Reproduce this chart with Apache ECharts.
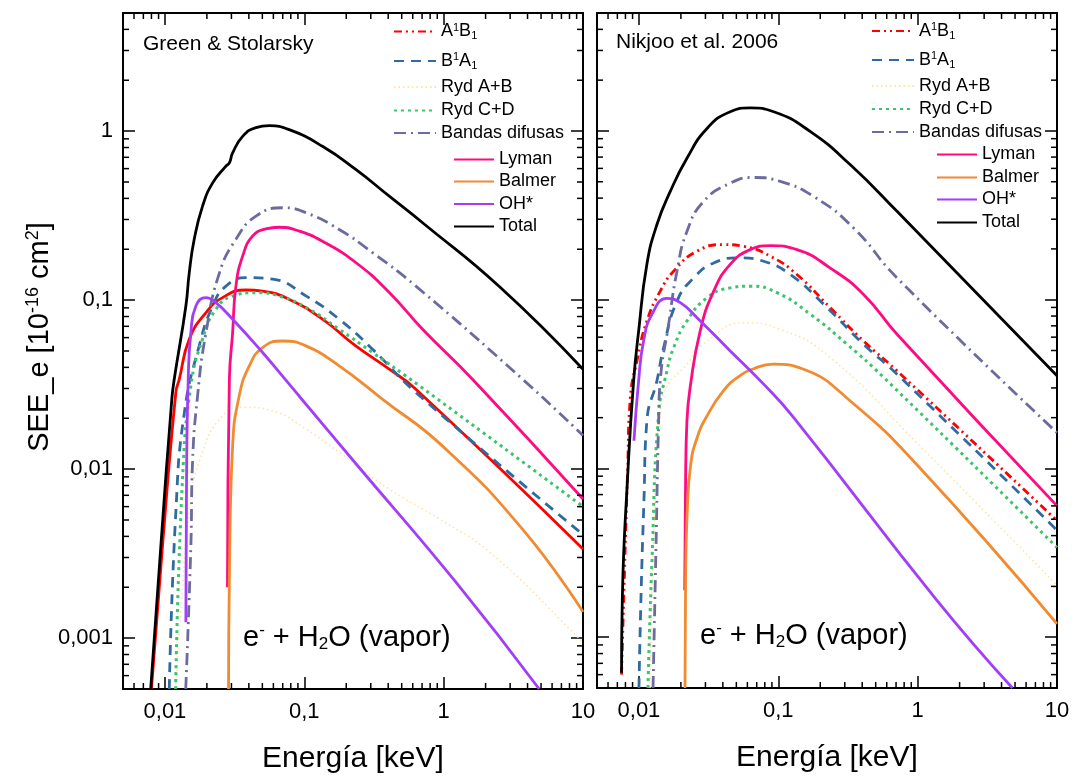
<!DOCTYPE html>
<html style="height: 100%">
<head>
<meta charset="utf-8">
<script src="https://cdn.jsdelivr.net/npm/echarts@6/dist/echarts.min.js"></script>
</head>
<body style="height: 100%; margin: 0; width: 100%; background: #fff;">
<div id="container" style="width: 1075px; height: 779px;"></div>
<script type="text/javascript">
// [energia keV, SEE_e 1e-16 cm2]  -- Green & Stolarsky (panel izquierdo)
var gsA1B1 = [[0.0080,0.0005],[0.0096,0.0035],[0.01197,0.0284],[0.01267,0.034],[0.01494,0.0587],[0.0197,0.0844],[0.0259,0.1035],[0.0381,0.1148],[0.0502,0.113],[0.078,0.101],[0.135,0.0771],[0.234,0.0536],[0.407,0.039],[0.632,0.0297],[10,0.00337]];
var gsB1A1 = [[0.01074,0.0005],[0.01197,0.00556],[0.01378,0.0216],[0.0176,0.0536],[0.022,0.0923],[0.0274,0.121],[0.0381,0.136],[0.0592,0.133],[0.1026,0.106],[0.178,0.0771],[0.309,0.0512],[0.632,0.0284],[10,0.0041]];
var gsRydAB = [[0.0119,0.0005],[0.013,0.00143],[0.0149,0.00556],[0.0176,0.011],[0.0259,0.0207],[0.0381,0.0232],[0.0592,0.0221],[0.1026,0.01725],[0.178,0.01257],[0.407,0.00762],[0.931,0.00507],[2.13,0.00323],[8.9,0.00104],[10,0.00093]];
var gsRydCD = [[0.01193,0.0005],[0.01337,0.00874],[0.01535,0.0311],[0.0186,0.0587],[0.0232,0.0882],[0.0306,0.1057],[0.045,0.1107],[0.066,0.1057],[0.1087,0.0882],[0.178,0.0672],[0.309,0.049],[0.67,0.0311],[10,0.0060]];
var gsBandas = [[0.0141,0.0005],[0.01535,0.00353],[0.01578,0.011],[0.01714,0.0271],[0.0197,0.0643],[0.0246,0.145],[0.0323,0.229],[0.045,0.314],[0.0698,0.352],[0.1026,0.329],[0.178,0.262],[0.309,0.191],[0.632,0.121],[3.69,0.034],[10,0.0158]];
var gsLyman = [[0.0281,0.002],[0.029,0.034],[0.0306,0.0643],[0.0323,0.121],[0.0361,0.182],[0.0425,0.239],[0.053,0.264],[0.0661,0.27],[0.092,0.256],[0.135,0.223],[0.234,0.167],[0.407,0.111],[0.706,0.0672],[1.61,0.034],[10,0.00666]];
var gsBalmer = [[0.0286,0.0005],[0.029,0.00224],[0.0306,0.01375],[0.0341,0.0271],[0.0403,0.0408],[0.0502,0.0524],[0.0698,0.0573],[0.1026,0.0536],[0.178,0.0408],[0.365,0.0259],[1,0.0135],[3.69,0.0044],[10,0.00143]];
var gsOH = [[0.01413,0.00124],[0.01429,0.00874],[0.01469,0.034],[0.01535,0.0643],[0.01667,0.0923],[0.0197,0.1035],[0.0232,0.0966],[0.0306,0.0771],[0.0502,0.049],[0.0698,0.0355],[0.092,0.027],[0.234,0.0108],[1.22,0.00215],[4.85,0.0005]];
var gsTotal = [[0.0079,0.0005],[0.00935,0.00353],[0.0112,0.0259],[0.01166,0.034],[0.01413,0.0923],[0.01494,0.145],[0.01622,0.229],[0.01862,0.36],[0.022,0.494],[0.0274,0.62],[0.029,0.649],[0.0306,0.743],[0.0361,0.931],[0.045,1.05],[0.0561,1.077],[0.078,1.02],[0.135,0.813],[0.234,0.593],[0.407,0.412],[0.706,0.287],[2.52,0.12],[10,0.039]];

// Nikjoo et al. 2006 (panel derecho)
var nkA1B1 = [[0.0075,0.0006],[0.0083,0.01],[0.00867,0.0263],[0.00968,0.0434],[0.0114,0.0748],[0.01422,0.1124],[0.01774,0.1475],[0.0261,0.194],[0.0406,0.212],[0.0565,0.207],[0.0877,0.181],[0.136,0.141],[0.236,0.0896],[0.409,0.0569],[0.711,0.0379],[10,0.0049]];
var nkB1A1 = [[0.0100,0.0005],[0.01033,0.00166],[0.01086,0.00646],[0.0114,0.0192],[0.01346,0.0331],[0.01503,0.052],[0.01875,0.0981],[0.0247,0.1347],[0.0344,0.165],[0.0533,0.177],[0.0785,0.169],[0.122,0.141],[0.212,0.0938],[0.409,0.0544],[0.711,0.0362],[10,0.0043]];
var nkRydAB = [[0.012,0.0005],[0.01303,0.00646],[0.01416,0.0192],[0.01503,0.0276],[0.0221,0.0415],[0.0308,0.0569],[0.0565,0.073],[0.1033,0.0668],[0.236,0.0454],[1,0.0140],[10,0.00203]];
var nkRydCD = [[0.0116,0.0005],[0.0124,0.00286],[0.01384,0.021],[0.01589,0.0379],[0.01774,0.052],[0.0221,0.0748],[0.0308,0.1026],[0.0452,0.1175],[0.0629,0.1202],[0.098,0.11],[0.170,0.0819],[0.312,0.0544],[0.571,0.0346],[10,0.0034]];
var nkBandas = [[0.01262,0.0005],[0.01324,0.00327],[0.01384,0.0192],[0.01422,0.0331],[0.01633,0.0715],[0.01875,0.1475],[0.0221,0.254],[0.0291,0.382],[0.0452,0.49],[0.0665,0.53],[0.1033,0.502],[0.1795,0.409],[0.347,0.266],[0.711,0.1347],[10,0.0163]];
var nkLyman = [[0.0213,0.0019],[0.0216,0.008],[0.0221,0.0192],[0.0233,0.0302],[0.0275,0.0652],[0.0344,0.1124],[0.0452,0.162],[0.0629,0.198],[0.0877,0.209],[0.136,0.198],[0.236,0.154],[0.409,0.1074],[0.711,0.0624],[10,0.0060]];
var nkBalmer = [[0.0214,0.0005],[0.0216,0.002],[0.0222,0.0055],[0.0235,0.0105],[0.026,0.015],[0.0308,0.0205],[0.0406,0.029],[0.052,0.035],[0.0665,0.039],[0.0923,0.0415],[0.152,0.0387],[0.327,0.0252],[1,0.0104],[10,0.0012]];
var nkOH = [[0.00921,0.0146],[0.00995,0.0331],[0.0108,0.0569],[0.0124,0.0819],[0.01589,0.1018],[0.0198,0.096],[0.0261,0.0782],[0.0452,0.0497],[0.0785,0.0316],[0.129,0.02],[1.37,0.00166],[4.79,0.0005]];
var nkTotal = [[0.0075,0.000615],[0.0076,0.0017],[0.00834,0.0097],[0.00916,0.0331],[0.00995,0.0652],[0.0114,0.162],[0.01346,0.279],[0.01678,0.438],[0.0221,0.689],[0.0308,1.035],[0.0452,1.30],[0.0629,1.37],[0.0927,1.30],[0.170,0.991],[0.329,0.63],[0.711,0.334],[10,0.0354]];

var seriesKeys = ['A1B1', 'B1A1', 'RydAB', 'RydCD', 'Bandas', 'Lyman', 'Balmer', 'OH', 'Total'];
var legendText = {
    A1B1: '{t|A}{sp|1}{t|B}{sb|1}',
    B1A1: '{t|B}{sp|1}{t|A}{sb|1}',
    RydAB: '{t|Ryd A+B}',
    RydCD: '{t|Ryd C+D}',
    Bandas: '{t|Bandas difusas}',
    Lyman: '{t|Lyman}',
    Balmer: '{t|Balmer}',
    OH: '{t|OH*}',
    Total: '{t|Total}'
};
var xMin = 0.005, xMax = 10, yMin = 0.0005, yMax = 5;
var xMinorTicks = [0.006,0.007,0.008,0.009,0.02,0.03,0.04,0.05,0.06,0.07,0.08,0.09,0.2,0.3,0.4,0.5,0.6,0.7,0.8,0.9,2,3,4,5,6,7,8,9];
var yMinorTicks = [0.0006,0.0007,0.0008,0.0009,0.002,0.003,0.004,0.005,0.006,0.007,0.008,0.009,0.02,0.03,0.04,0.05,0.06,0.07,0.08,0.09,0.2,0.3,0.4,0.5,0.6,0.7,0.8,0.9,2,3,4];

var styles = {
    A1B1:   {color: '#FF0000', width: 2.8, type: [8, 4, 2, 4, 2, 4]},
    B1A1:   {color: '#2F6B9F', width: 2.8, type: [10, 7]},
    RydAB:  {color: '#FFE3A3', width: 1.6, type: [1.5, 3]},
    RydCD:  {color: '#3CC46A', width: 3, type: [3, 4]},
    Bandas: {color: '#6B6B9F', width: 2.8, type: [12, 5, 2, 5]},
    Lyman:  {color: '#FF0A82', width: 2.8, type: 'solid'},
    Balmer: {color: '#F28A30', width: 2.8, type: 'solid'},
    OH:     {color: '#A23EF8', width: 2.8, type: 'solid'},
    Total:  {color: '#000000', width: 2.8, type: 'solid'}
};
var panelData = {
    L: {A1B1: gsA1B1, B1A1: gsB1A1, RydAB: gsRydAB, RydCD: gsRydCD, Bandas: gsBandas, Lyman: gsLyman, Balmer: gsBalmer, OH: gsOH, Total: gsTotal},
    R: {A1B1: nkA1B1, B1A1: nkB1A1, RydAB: nkRydAB, RydCD: nkRydCD, Bandas: nkBandas, Lyman: nkLyman, Balmer: nkBalmer, OH: nkOH, Total: nkTotal}
};

var fam = 'Liberation Sans, Arial, sans-serif';

function decLabel(v) {
    var e = Math.log10(v);
    if (Math.abs(e - Math.round(e)) > 1e-6) return '';
    return String(Number(v.toPrecision(6))).replace('.', ',');
}

var dom = document.getElementById('container');
var myChart = echarts.init(dom);

function xAx(grid, pos, labels, name) {
    return {
        type: 'log', gridIndex: grid, position: pos, min: xMin, max: xMax, logBase: 10,
        axisLine: {show: true, lineStyle: {color: '#000', width: 2}},
        axisTick: {show: true, inside: true, length: 12, lineStyle: {color: '#000', width: 1.5}},
        axisLabel: {show: labels, formatter: decLabel, color: '#000', fontSize: 22, fontFamily: fam, margin: 12},
        splitLine: {show: false},
        name: name, nameLocation: 'middle', nameGap: 55,
        nameTextStyle: {color: '#000', fontSize: 30, fontFamily: fam}
    };
}
function yAx(grid, pos, labels, name) {
    return {
        type: 'log', gridIndex: grid, position: pos, min: yMin, max: yMax, logBase: 10,
        axisLine: {show: true, lineStyle: {color: '#000', width: 2}},
        axisTick: {show: true, inside: true, length: 12, lineStyle: {color: '#000', width: 1.5}},
        axisLabel: {show: labels, formatter: decLabel, color: '#000', fontSize: 22, fontFamily: fam, margin: 10},
        splitLine: {show: false},
        name: name, nameLocation: 'middle', nameGap: 60, nameRotate: 90,
        nameTextStyle: {
            color: '#000', fontFamily: fam, padding: [0, 0, 0, 28],
            rich: {
                t: {fontSize: 29, fontFamily: fam, color: '#000'},
                sp: {fontSize: 18, fontFamily: fam, color: '#000', padding: [0, 0, 14, 0]}
            }
        }
    };
}

var series = [];
['L', 'R'].forEach(function (p, pi) {
    seriesKeys.forEach(function (k, ki) {
        var st = styles[k];
        var type = st.type;
        if (p === 'L' && k === 'A1B1') type = 'solid';
        series.push({
            type: 'line', name: p + '|' + k,
            xAxisIndex: pi * 2, yAxisIndex: pi * 2,
            data: panelData[p][k],
            symbol: 'none', showSymbol: false,
            smooth: 0.5,
            lineStyle: {color: st.color, width: st.width, type: type},
            itemStyle: {color: st.color},
            z: 2 + ki, animation: false, silent: true
        });
    });
    var ticks = [];
    xMinorTicks.forEach(function (v) { ticks.push([v, 0.1, 0]); });
    yMinorTicks.forEach(function (v) { ticks.push([0.1, v, 1]); });
    series.push({
        type: 'custom', name: p + '|ticks', xAxisIndex: pi * 2, yAxisIndex: pi * 2,
        data: ticks, silent: true, animation: false, z: 20,
        renderItem: function (params, api) {
            var cs = params.coordSys;
            var pt = api.coord([api.value(0), api.value(1)]);
            var L = 6, s = {stroke: '#000', lineWidth: 1.5};
            if (api.value(2) === 0) {
                return {type: 'group', children: [
                    {type: 'line', shape: {x1: pt[0], y1: cs.y + cs.height, x2: pt[0], y2: cs.y + cs.height - L}, style: s},
                    {type: 'line', shape: {x1: pt[0], y1: cs.y, x2: pt[0], y2: cs.y + L}, style: s}
                ]};
            }
            return {type: 'group', children: [
                {type: 'line', shape: {x1: cs.x, y1: pt[1], x2: cs.x + L, y2: pt[1]}, style: s},
                {type: 'line', shape: {x1: cs.x + cs.width, y1: pt[1], x2: cs.x + cs.width - L, y2: pt[1]}, style: s}
            ]};
        }
    });
});

// leyendas: una por fila para fijar la posicion vertical
var legendRows = {L: [32, 61.5, 88, 111.5, 134, 160.5, 182.5, 205, 227.5], R: [31.5, 60.5, 87, 110, 133, 155.5, 178.5, 200.5, 223.5]};
var legendX = {L: [393, 453], R: [871, 936]};
var legends = [];
['L', 'R'].forEach(function (p) {
    seriesKeys.forEach(function (k, i) {
        var item = {name: p + '|' + k};
        if (p === 'L' && k === 'A1B1') item.lineStyle = {type: styles.A1B1.type};
        legends.push({
            data: [item], orient: 'vertical', selectedMode: false, padding: 0,
            left: legendX[p][i < 5 ? 0 : 1], top: legendRows[p][i] - 10,
            itemWidth: i < 5 ? 42 : 40, itemHeight: 14,
            itemStyle: {opacity: 0},
            formatter: function (n) { return legendText[n.slice(2)]; },
            textStyle: {
                color: '#000', fontSize: 18, fontFamily: fam,
                rich: {
                    t: {fontSize: 18, fontFamily: fam, color: '#000', lineHeight: 20},
                    sp: {fontSize: 11, fontFamily: fam, color: '#000', padding: [0, 0, 8, 0]},
                    sb: {fontSize: 11, fontFamily: fam, color: '#000', padding: [9, 0, 0, 0]}
                }
            }
        });
    });
});

var noteRich = {
    t: {fontSize: 29, fontFamily: fam, fill: '#000'},
    sp: {fontSize: 17, fontFamily: fam, fill: '#000', padding: [0, 0, 14, 0]},
    sb: {fontSize: 17, fontFamily: fam, fill: '#000', padding: [14, 0, 0, 0]}
};
var noteText = '{t|e}{sp|-}{t| + H}{sb|2}{t|O (vapor)}';

option = {
    backgroundColor: '#fff',
    animation: false,
    grid: [
        {left: 123, top: 13, width: 460, height: 677},
        {left: 597, top: 13, width: 460, height: 675}
    ],
    xAxis: [
        xAx(0, 'bottom', true, 'Energía [keV]'), xAx(0, 'top', false, ''),
        xAx(1, 'bottom', true, 'Energía [keV]'), xAx(1, 'top', false, '')
    ],
    yAxis: [
        yAx(0, 'left', true, '{t|SEE_e [10}{sp|-16}{t| cm}{sp|2}{t|]}'), yAx(0, 'right', false, ''),
        yAx(1, 'left', false, ''), yAx(1, 'right', false, '')
    ],
    legend: legends,
    graphic: [
        {type: 'text', left: 143, top: 34, style: {text: 'Green & Stolarsky', fontSize: 21, fontFamily: fam, fill: '#000'}},
        {type: 'text', left: 616, top: 32, style: {text: 'Nikjoo et al. 2006', fontSize: 21, fontFamily: fam, fill: '#000'}},
        {type: 'text', left: 243, top: 622, style: {text: noteText, rich: noteRich}},
        {type: 'text', left: 700, top: 620, style: {text: noteText, rich: noteRich}}
    ],
    series: series
};

if (option && typeof option === "object") {
    myChart.setOption(option, true);
}
</script>
</body>
</html>
